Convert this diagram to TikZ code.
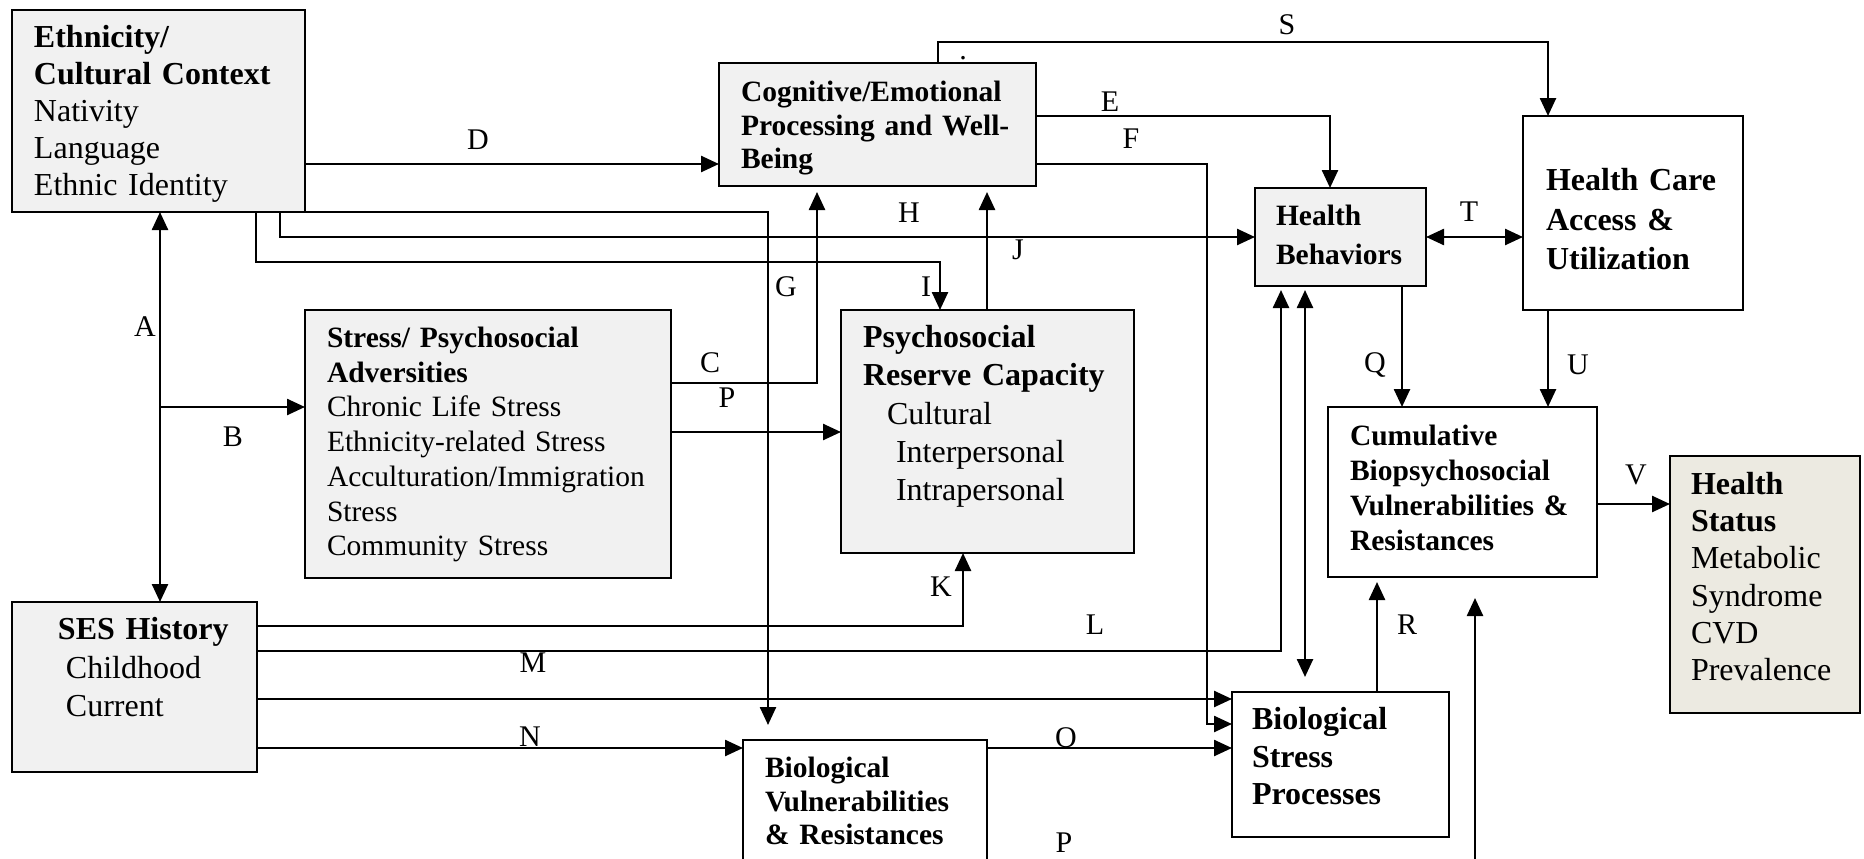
\documentclass[tikz,border=0pt]{standalone}
\usepackage{fontspec}
\setmainfont{Liberation Serif}
\usetikzlibrary{arrows.meta}
\definecolor{boxgray}{HTML}{F1F1F1}
\definecolor{statusfill}{HTML}{ECEAE1}

\begin{document}
\begin{tikzpicture}[x=1pt, y=-1pt,
  box/.style = {draw, line width=2.8pt, anchor=north west, inner ysep=0pt, outer sep=0pt, align=left},
  shaded/.style = {box, fill=boxgray},
  dims/.style n args = {3}{text width=#1, text height=#2, text depth=#3},
  big/.style = {font=\fontsize{32}{#1}\selectfont},
  small/.style = {font=\fontsize{29.5}{#1}\selectfont},
  lbl/.style = {inner sep=0pt, font=\fontsize{30}{30}\selectfont},
  arr/.style = {line width=2.5pt, -{Triangle[length=18pt,width=16pt]}},
  dbl/.style = {line width=2.5pt, {Triangle[length=18pt,width=16pt]}-{Triangle[length=18pt,width=16pt]}},
]
\fill[white] (0,0) rectangle (1864,859);
\useasboundingbox (0,0) rectangle (1864,859);

% boxes
\node[shaded, big=37, inner xsep=22pt, dims={249pt}{37.5pt}{164.5pt}] (eth) at (12,10)
  {\textbf{Ethnicity/}\\ \textbf{Cultural Context}\\ Nativity\\ Language\\ Ethnic Identity};
\node[shaded, small=33.5, inner xsep=22pt, dims={273pt}{38.5pt}{84.5pt}] (cog) at (719,63)
  {\textbf{Cognitive/Emotional}\\ \textbf{Processing and Well-}\\ \textbf{Being}};
\node[shaded, small=34.7, inner xsep=22pt, dims={322pt}{37.5pt}{230.5pt}] (stress) at (305,310)
  {\textbf{Stress/ Psychosocial}\\ \textbf{Adversities}\\ Chronic Life Stress\\ Ethnicity-related Stress\\ Acculturation/Immigration\\ Stress\\ Community Stress};
\node[shaded, big=38.25, inner xsep=22pt, dims={249pt}{37.5pt}{205.5pt}] (psr) at (841,310)
  {\textbf{Psychosocial}\\ \textbf{Reserve Capacity}\\ \hspace*{24pt}Cultural\\ \hspace*{33pt}Interpersonal\\ \hspace*{33pt}Intrapersonal};
\node[shaded, small=39, inner xsep=21pt, dims={129pt}{37.5pt}{60.5pt}] (hb) at (1255,188)
  {\textbf{Health}\\ \textbf{Behaviors}};
\node[box, fill=white, big=39.5, inner xsep=23pt, dims={174pt}{74.5pt}{119.5pt}] (hc) at (1523,116)
  {\textbf{Health Care}\\ \textbf{Access \&}\\ \textbf{Utilization}};
\node[box, fill=white, small=35, inner xsep=22pt, dims={225pt}{38.5pt}{131.5pt}] (cum) at (1328,407)
  {\textbf{Cumulative}\\ \textbf{Biopsychosocial}\\ \textbf{Vulnerabilities \&}\\ \textbf{Resistances}};
\node[box, fill=statusfill, big=37.2, inner xsep=21pt, dims={148pt}{38.5pt}{218.5pt}] (hs) at (1670,456)
  {\textbf{Health}\\ \textbf{Status}\\ Metabolic\\ Syndrome\\ CVD\\ Prevalence};
\node[shaded, big=38.5, inner xsep=22pt, dims={201pt}{37.5pt}{132.5pt}] (ses) at (12,602)
  {\hspace*{24pt}\textbf{SES History}\\ \hspace*{32pt}Childhood\\ \hspace*{32pt}Current};
\node[box, fill=white, big=37.5, inner xsep=20pt, dims={177pt}{37.5pt}{107.5pt}] (bs) at (1232,692)
  {\textbf{Biological}\\ \textbf{Stress}\\ \textbf{Processes}};
\node[box, fill=white, small=33.5, inner xsep=22pt, dims={200pt}{37.5pt}{87.5pt}] (bv) at (743,740)
  {\textbf{Biological}\\ \textbf{Vulnerabilities}\\ \textbf{\& Resistances}};

% paths
\coordinate (aX) at (160,0);
\coordinate (bJ) at (160,407);
\coordinate (pBot) at (1475,859);
\draw[dbl] (eth.south -| aX) -- (ses.north -| aX);
\draw[arr] (bJ) -- (bJ -| stress.west);
\draw[arr, shorten >=6pt] (stress.east |- 0,383) -| (cog.south -| 817,0);
\draw[arr] (stress.east |- 0,432) -- (psr.west |- 0,432);
\draw[arr] (eth.east |- 0,164) -- (cog.west |- 0,164);
\draw[arr] (cog.east |- 0,116) -| (hb.north -| 1330,0);
\draw[arr] (cog.east |- 0,164) -| (1207,724) -- (bs.west |- 0,724);
\draw[arr, shorten >=15pt] (eth.south east) -| (bv.north -| 768,0);
\draw[arr] (eth.south -| 280,0) |- (hb.west |- 0,237);
\draw[arr] (eth.south -| 256,0) |- (940,262) -- (psr.north -| 940,0);
\draw[arr, shorten >=6pt] (psr.north -| 987,0) -- (cog.south -| 987,0);
\draw[arr] (ses.east |- 0,626) -| (psr.south -| 963,0);
\draw[arr, shorten >=4pt] (ses.east |- 0,651) -| (hb.south -| 1281,0);
\draw[arr] (ses.east |- 0,699) -- (bs.west |- 0,699);
\draw[arr] (ses.east |- 0,748) -- (bv.west |- 0,748);
\draw[arr] (bv.east |- 0,748) -- (bs.west |- 0,748);
\draw[arr] (hb.south -| 1402,0) -- (cum.north -| 1402,0);
\draw[arr, shorten >=5pt] (bs.north -| 1377,0) -- (cum.south -| 1377,0);
\draw[arr] (cog.north -| 938,0) |- (1548,42) -- (hc.north -| 1548,0);
\draw[dbl] (hb.east |- 0,237) -- (hc.west |- 0,237);
\draw[arr] (hc.south -| 1548,0) -- (cum.north -| 1548,0);
\draw[arr] (cum.east |- 0,504) -- (hs.west |- 0,504);
\draw[dbl, shorten <=4pt, shorten >=15pt] (hb.south -| 1305,0) -- (bs.north -| 1305,0);
\draw[arr, shorten >=21pt] (pBot) -- (cum.south -| pBot);

% labels
\node[lbl] (lA) at (145,327) {A};
\node[lbl] (lB) at (233,437) {B};
\node[lbl] (lC) at (710,363) {C};
\node[lbl] (lP) at (727,398) {P};
\node[lbl] (lD) at (478,140) {D};
\node[lbl] (lE) at (1110,102) {E};
\node[lbl] (lF) at (1131,139) {F};
\node[lbl] (lG) at (786,287) {G};
\node[lbl] (lH) at (909,213) {H};
\node[lbl] (lI) at (926,287) {I};
\node[lbl] (lJ) at (1018,250) {J};
\node[lbl] (lK) at (941,587) {K};
\node[lbl] (lL) at (1095,625) {L};
\node[lbl] (lM) at (533,663) {M};
\node[lbl] (lN) at (530,737) {N};
\node[lbl] (lO) at (1066,738) {O};
\node[lbl] (lQ) at (1375,365) {Q};
\node[lbl] (lR) at (1407,625) {R};
\node[lbl] (lS) at (1287,25) {S};
\node[lbl] (lT) at (1469,212) {T};
\node[lbl] (lU) at (1578,365) {U};
\node[lbl] (lV) at (1636,475) {V};
\node[lbl] (lP2) at (1064,843) {P};
\node[lbl] (dot) at (963,58) {.};
\end{tikzpicture}
\end{document}
